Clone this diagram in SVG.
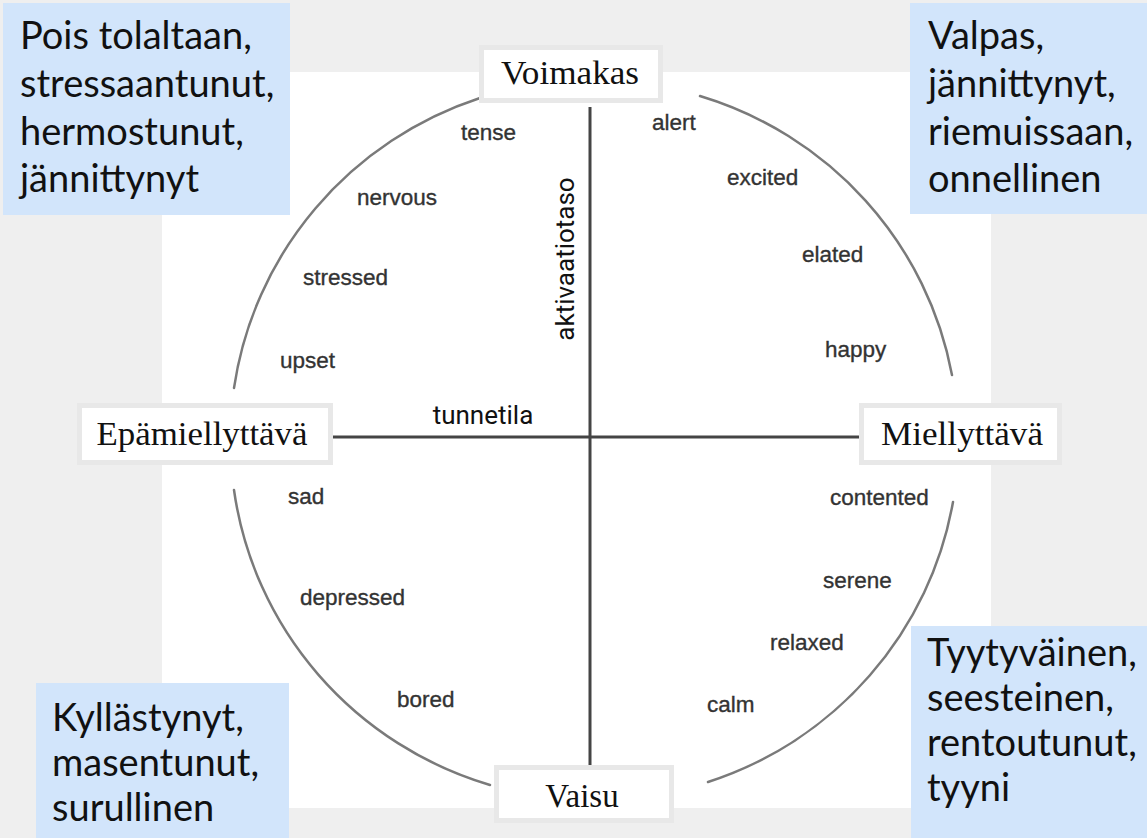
<svg xmlns="http://www.w3.org/2000/svg" width="1147" height="838" viewBox="0 0 1147 838">
  <defs>
    <style>
      .bg { fill: #efefef; }
      .panel { fill: #ffffff; }
      .blue { fill: #d2e5fb; }
      .btxt { font-family: Lato, "Open Sans", "Liberation Sans", sans-serif; font-size: 38px; fill: #111111; }
      .lbox { fill: #ffffff; stroke: #e8e8e8; stroke-width: 5; }
      .ltxt { font-family: "Liberation Serif", "Times New Roman", serif; font-size: 33px; fill: #111111; }
      .emo { font-family: "Liberation Sans", Arial, sans-serif; font-size: 22.5px; fill: #333333; stroke: #333333; stroke-width: 0.35; }
      .axt { font-family: Roboto, "Liberation Sans", sans-serif; font-size: 26px; fill: #111111; }
      .arc { fill: none; stroke: #7a7a7a; stroke-width: 2.5; stroke-linecap: round; }
      .axis { fill: none; stroke: #444444; stroke-width: 3; }
    </style>
  </defs>

  <rect class="bg" x="0" y="0" width="1147" height="838"/>
  <rect class="panel" x="162" y="72" width="829" height="736"/>

  <g id="connectors">
    <path class="arc" d="M 234,388 A 364 360 0 0 1 480,98"/>
    <path class="arc" d="M 700,96 A 364 360 0 0 1 952,375"/>
    <path class="arc" d="M 953,502 A 364 360 0 0 1 708,782"/>
    <path class="arc" d="M 490,785 A 364 360 0 0 1 234,490"/>
    <line class="axis" x1="590" y1="107" x2="590" y2="767"/>
    <line class="axis" x1="333" y1="437" x2="859" y2="437"/>
  </g>

  <g id="emotions">
    <text class="emo" x="461" y="140">tense</text>
    <text class="emo" x="357" y="205">nervous</text>
    <text class="emo" x="303" y="285">stressed</text>
    <text class="emo" x="280" y="368">upset</text>
    <text class="emo" x="652" y="130">alert</text>
    <text class="emo" x="727" y="185">excited</text>
    <text class="emo" x="802" y="262">elated</text>
    <text class="emo" x="825" y="357">happy</text>
    <text class="emo" x="288" y="504">sad</text>
    <text class="emo" x="300" y="605">depressed</text>
    <text class="emo" x="397" y="707">bored</text>
    <text class="emo" x="830" y="505">contented</text>
    <text class="emo" x="823" y="588">serene</text>
    <text class="emo" x="770" y="650">relaxed</text>
    <text class="emo" x="707" y="712">calm</text>
  </g>

  <g id="axis-labels">
    <text class="axt" x="483" y="424" text-anchor="middle">tunnetila</text>
    <text class="axt" transform="translate(574,259) rotate(-90)" x="0" y="0" text-anchor="middle">aktivaatiotaso</text>
  </g>

  <g id="node-voimakas">
    <rect class="lbox" x="481.5" y="47.5" width="179" height="53"/>
    <text class="ltxt" x="570" y="84" text-anchor="middle" textLength="138" lengthAdjust="spacingAndGlyphs">Voimakas</text>
  </g>
  <g id="node-epamiellyttava">
    <rect class="lbox" x="79.5" y="405.5" width="251" height="57"/>
    <text class="ltxt" x="202" y="445" text-anchor="middle" textLength="211" lengthAdjust="spacingAndGlyphs">Epämiellyttävä</text>
  </g>
  <g id="node-miellyttava">
    <rect class="lbox" x="861.5" y="405.5" width="198" height="57"/>
    <text class="ltxt" x="962" y="445" text-anchor="middle" textLength="162" lengthAdjust="spacingAndGlyphs">Miellyttävä</text>
  </g>
  <g id="node-vaisu">
    <rect class="lbox" x="496.5" y="767.5" width="175" height="53"/>
    <text class="ltxt" x="582" y="807" text-anchor="middle">Vaisu</text>
  </g>

  <g id="node-top-left">
    <rect class="blue" x="3" y="3" width="287" height="212"/>
    <text class="btxt" x="20" y="49">Pois tolaltaan,</text>
    <text class="btxt" x="20" y="97">stressaantunut,</text>
    <text class="btxt" x="20" y="145">hermostunut,</text>
    <text class="btxt" x="20" y="192">jännittynyt</text>
  </g>
  <g id="node-top-right">
    <rect class="blue" x="910" y="3" width="237" height="211"/>
    <text class="btxt" x="928" y="49">Valpas,</text>
    <text class="btxt" x="928" y="97">jännittynyt,</text>
    <text class="btxt" x="928" y="145">riemuissaan,</text>
    <text class="btxt" x="928" y="192">onnellinen</text>
  </g>
  <g id="node-bottom-left">
    <rect class="blue" x="36" y="683" width="253" height="155"/>
    <text class="btxt" x="52" y="731">Kyllästynyt,</text>
    <text class="btxt" x="52" y="776">masentunut,</text>
    <text class="btxt" x="52" y="821">surullinen</text>
  </g>
  <g id="node-bottom-right">
    <rect class="blue" x="911" y="626" width="236" height="212"/>
    <text class="btxt" x="927" y="666">Tyytyväinen,</text>
    <text class="btxt" x="927" y="711">seesteinen,</text>
    <text class="btxt" x="927" y="756">rentoutunut,</text>
    <text class="btxt" x="927" y="801">tyyni</text>
  </g>
</svg>
